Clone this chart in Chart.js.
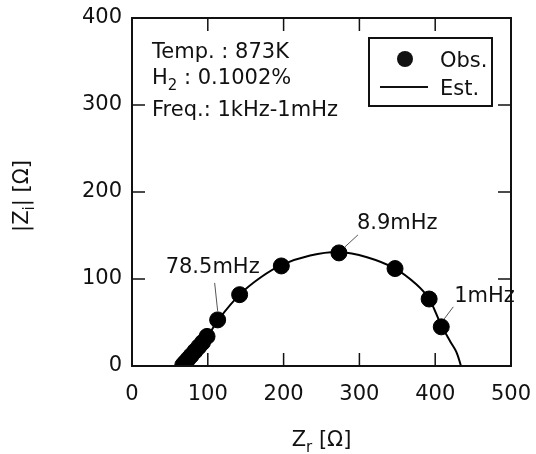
<!DOCTYPE html>
<html>
<head>
<meta charset="utf-8">
<script src="https://cdn.jsdelivr.net/npm/chart.js@4.4.0/dist/chart.umd.min.js"></script>
<style>
  html, body { margin: 0; padding: 0; background: #fff; }
  #wrap { width: 536px; height: 454px; }
</style>
</head>
<body>
<div id="wrap"><canvas id="nyquist" width="536" height="454"></canvas></div>
<script>
// observed impedance (Z_r, |Z_i|) in ohm
const obsZr = [67, 70, 74, 78, 83, 88, 93, 99, 113, 142, 197, 273, 347, 392, 408];
const obsZi = [1, 4, 8, 12, 17, 22, 27, 34, 53, 82, 115, 130, 112, 77, 45];

// estimated curve
const estZr = [62, 68, 80, 98, 113, 142, 170, 197, 235, 273, 310, 347, 375, 392, 408, 420, 428, 434];
const estZi = [0, 4, 15, 32, 52, 82, 102, 116, 127, 131, 125, 112, 94, 77, 47, 28, 16, 0];

// frequency labels and the observed point each one marks
const freqLabels = ["78.5mHz", "8.9mHz", "1mHz"];
const freqIndex = [8, 11, 14];

const xTicks = [0, 100, 200, 300, 400, 500];
const yTicks = [0, 100, 200, 300, 400];

const infoLines = ["Temp. : 873K", "H|2| : 0.1002%", "Freq.: 1kHz-1mHz"];

const FONT = "DejaVu Sans";
const FS = 21;
const INK = "#111";

// label offsets from the marked point
const labelGeom = [
    { tx: -5, ty: -52, align: "center", l1: [-3, -37], l2: [0, -9] },
    { tx: 18, ty: -29, align: "left", l1: [19, -18], l2: [6, -6] },
    { tx: 13, ty: -30, align: "left", l1: [12, -20], l2: [3, -8] }
];

function drawSub(ctx, x, y, base, sub, rest, size) {
    // base + subscript + rest, left aligned at x, baseline y
    ctx.font = size + "px '" + FONT + "'";
    ctx.fillText(base, x, y);
    let w = ctx.measureText(base).width;
    ctx.font = Math.round(size * 0.7) + "px '" + FONT + "'";
    ctx.fillText(sub, x + w, y + size * 0.28);
    w += ctx.measureText(sub).width;
    ctx.font = size + "px '" + FONT + "'";
    ctx.fillText(rest, x + w, y);
}

function subWidth(ctx, base, sub, rest, size) {
    ctx.font = size + "px '" + FONT + "'";
    let w = ctx.measureText(base).width + ctx.measureText(rest).width;
    ctx.font = Math.round(size * 0.7) + "px '" + FONT + "'";
    return w + ctx.measureText(sub).width;
}

function noPad(scale) {
    scale.paddingLeft = 0;
    scale.paddingRight = 0;
    scale.paddingTop = 0;
    scale.paddingBottom = 0;
}

const decorations = {
    id: "decorations",
    afterDraw(chart) {
        const ctx = chart.ctx;
        const xs = chart.scales.x;
        const ys = chart.scales.y;
        const a = chart.chartArea;
        ctx.save();

        // frame
        ctx.strokeStyle = INK;
        ctx.lineWidth = 2;
        ctx.strokeRect(a.left, a.top, a.right - a.left, a.bottom - a.top);

        // inward ticks on all four sides
        ctx.lineWidth = 1.5;
        ctx.beginPath();
        xTicks.slice(1, -1).forEach(v => {
            const px = xs.getPixelForValue(v);
            ctx.moveTo(px, a.bottom); ctx.lineTo(px, a.bottom - 13);
            ctx.moveTo(px, a.top); ctx.lineTo(px, a.top + 13);
        });
        yTicks.slice(1, -1).forEach(v => {
            const py = ys.getPixelForValue(v);
            ctx.moveTo(a.left, py); ctx.lineTo(a.left + 13, py);
            ctx.moveTo(a.right, py); ctx.lineTo(a.right - 13, py);
        });
        ctx.stroke();

        ctx.fillStyle = INK;
        ctx.textBaseline = "alphabetic";
        ctx.textAlign = "left";

        // info text
        const ix = a.left + 20;
        ctx.font = FS + "px '" + FONT + "'";
        ctx.fillText(infoLines[0], ix, 58);
        const h2 = infoLines[1].split("|");
        drawSub(ctx, ix, 84, h2[0], h2[1], h2[2], FS);
        ctx.font = FS + "px '" + FONT + "'";
        ctx.fillText(infoLines[2], ix, 116);

        // legend box
        ctx.lineWidth = 2;
        ctx.strokeRect(369, 38, 123, 68);
        ctx.beginPath();
        ctx.arc(405, 59, 8, 0, Math.PI * 2);
        ctx.fill();
        ctx.beginPath();
        ctx.moveTo(380, 87); ctx.lineTo(428, 87);
        ctx.stroke();
        ctx.font = FS + "px '" + FONT + "'";
        ctx.fillText(chart.data.datasets[0].label, 440, 67);
        ctx.fillText(chart.data.datasets[1].label, 440, 95);

        // frequency labels with leader lines
        ctx.lineWidth = 1;
        ctx.strokeStyle = "#555";
        freqLabels.forEach((txt, i) => {
            const k = freqIndex[i];
            const px = xs.getPixelForValue(obsZr[k]);
            const py = ys.getPixelForValue(obsZi[k]);
            const g = labelGeom[i];
            ctx.beginPath();
            ctx.moveTo(px + g.l1[0], py + g.l1[1]);
            ctx.lineTo(px + g.l2[0], py + g.l2[1]);
            ctx.stroke();
            ctx.textAlign = g.align;
            ctx.textBaseline = "middle";
            ctx.font = FS + "px '" + FONT + "'";
            ctx.fillText(txt, px + g.tx, py + g.ty);
        });

        // axis titles
        ctx.textBaseline = "alphabetic";
        ctx.textAlign = "left";
        const xw = subWidth(ctx, "Z", "r", " [Ω]", FS);
        drawSub(ctx, (a.left + a.right) / 2 - xw / 2, 446, "Z", "r", " [Ω]", FS);

        ctx.translate(28, 196);
        ctx.rotate(-Math.PI / 2);
        const yw = subWidth(ctx, "|Z", "i", "| [Ω]", FS);
        drawSub(ctx, -yw / 2, 0, "|Z", "i", "| [Ω]", FS);

        ctx.restore();
    }
};

(function () {
    'use strict'

    let canvas = document.getElementById("nyquist");
    let config = {
        type: "scatter",
        data: {
            datasets: [
                {
                    label: "Obs.",
                    data: obsZr.map((x, i) => ({ x: x, y: obsZi[i] })),
                    backgroundColor: "#000",
                    borderColor: "#000",
                    pointRadius: 8,
                    pointHoverRadius: 8,
                    order: 1
                },
                {
                    label: "Est.",
                    data: estZr.map((x, i) => ({ x: x, y: estZi[i] })),
                    showLine: true,
                    borderColor: "#000",
                    borderWidth: 2,
                    pointRadius: 0,
                    tension: 0.4,
                    order: 2
                }
            ]
        },
        options: {
            responsive: false,
            animation: false,
            events: [],
            layout: {
                padding: { left: 0, top: 18, right: 25, bottom: 0 }
            },
            plugins: {
                legend: { display: false },
                tooltip: { enabled: false }
            },
            scales: {
                x: {
                    type: "linear",
                    min: 0,
                    max: 500,
                    afterFit: scale => { scale.height = 88; noPad(scale) },
                    afterBuildTicks: scale => { scale.ticks = xTicks.map(v => ({ value: v })) },
                    grid: { display: false, drawTicks: false },
                    border: { display: false },
                    ticks: {
                        padding: 16,
                        color: INK,
                        font: { family: FONT, size: FS }
                    }
                },
                y: {
                    type: "linear",
                    min: 0,
                    max: 400,
                    afterFit: scale => { scale.width = 132; noPad(scale) },
                    afterBuildTicks: scale => { scale.ticks = yTicks.map(v => ({ value: v })) },
                    grid: { display: false, drawTicks: false },
                    border: { display: false },
                    ticks: {
                        padding: 10,
                        color: INK,
                        font: { family: FONT, size: FS }
                    }
                }
            }
        },
        plugins: [decorations]
    };

    let chart = new Chart(canvas, config);
})()
</script>
</body>
</html>
